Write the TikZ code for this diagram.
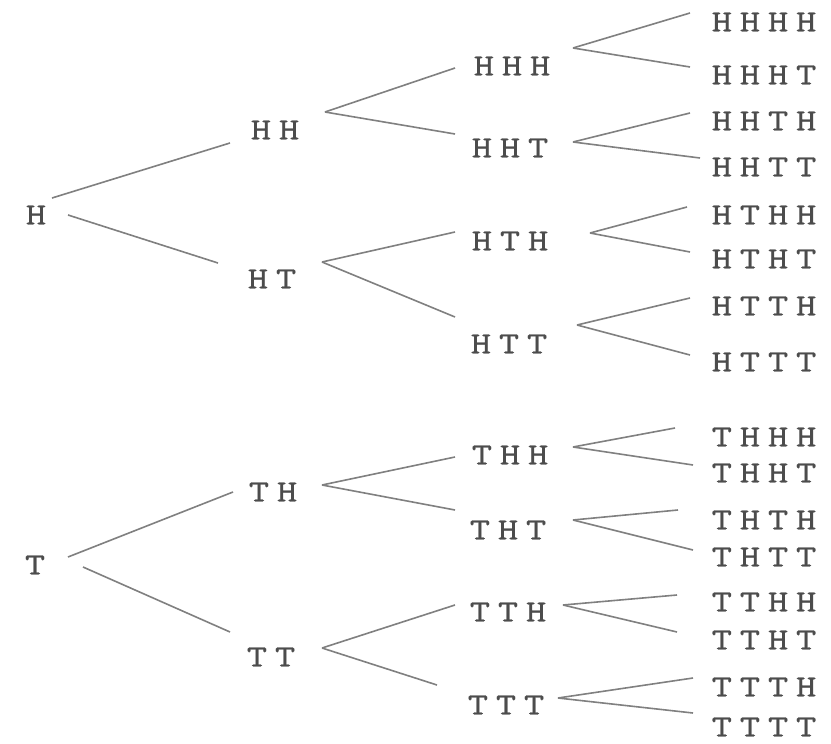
\documentclass[tikz,border=0pt]{standalone}
\usepackage{fontspec}
\definecolor{txtgray}{HTML}{4C4C4C}
\definecolor{linegray}{HTML}{808080}
\newfontfamily\treefont[LetterSpace=25,FakeStretch=1.25,FakeBold=0.6]{lmmono10-regular.otf}
\newcommand{\treefnt}{\treefont\fontsize{31}{31}\selectfont}
\begin{document}
\begin{tikzpicture}[x=1pt,y=-1pt,
  lbl/.style={anchor=center,inner sep=0pt,text height=18.9pt,text depth=0pt,
    font=\treefnt,text=txtgray},
  br/.style={draw=linegray,line width=1.6pt}]
\path[use as bounding box,fill=white] (0,0) rectangle (831,744);
% level 0
\node[lbl] (H) at (36,215) {H};
\node[lbl] (T) at (35,565) {T};
% level 1
\node[lbl] (HH) at (275,130) {HH};
\node[lbl] (HT) at (272,279) {HT};
\node[lbl] (TH) at (273,492) {TH};
\node[lbl] (TT) at (271,657) {TT};
% level 2
\node[lbl] (HHH) at (512,66) {HHH};
\node[lbl] (HHT) at (510,148) {HHT};
\node[lbl] (HTH) at (510,241) {HTH};
\node[lbl] (HTT) at (509,344) {HTT};
\node[lbl] (THH) at (510,455) {THH};
\node[lbl] (THT) at (508,530) {THT};
\node[lbl] (TTH) at (508,612) {TTH};
\node[lbl] (TTT) at (506,705) {TTT};
% level 3
\node[lbl] (HHHH) at (764,22) {HHHH};
\node[lbl] (HHHT) at (764,75) {HHHT};
\node[lbl] (HHTH) at (764,121) {HHTH};
\node[lbl] (HHTT) at (764,167) {HHTT};
\node[lbl] (HTHH) at (764,215) {HTHH};
\node[lbl] (HTHT) at (764,259) {HTHT};
\node[lbl] (HTTH) at (764,306) {HTTH};
\node[lbl] (HTTT) at (764,362) {HTTT};
\node[lbl] (THHH) at (764,437) {THHH};
\node[lbl] (THHT) at (764,473) {THHT};
\node[lbl] (THTH) at (764,520) {THTH};
\node[lbl] (THTT) at (764,557) {THTT};
\node[lbl] (TTHH) at (764,602) {TTHH};
\node[lbl] (TTHT) at (764,640) {TTHT};
\node[lbl] (TTTH) at (764,687) {TTTH};
\node[lbl] (TTTT) at (764,727) {TTTT};
% branches: parent/child/out-offset/in-offset (relative to node centres)
\foreach \p/\c/\o/\i in {
  H/HH/{16,-17}/{-45,13}, H/HT/{32,0}/{-54,-16},
  HH/HHH/{50,-18}/{-57,2}, HH/HHT/{50,-18}/{-55,-14},
  HT/HTH/{50,-17}/{-55,-9}, HT/HTT/{50,-17}/{-54,-27},
  HHH/HHHH/{61,-18}/{-74,-9}, HHH/HHHT/{61,-18}/{-74,-8},
  HHT/HHTH/{63,-6}/{-74,-8}, HHT/HHTT/{63,-6}/{-64,-9},
  HTH/HTHH/{80,-8}/{-77,-8}, HTH/HTHT/{80,-8}/{-74,-7},
  HTT/HTTH/{68,-19}/{-74,-8}, HTT/HTTT/{68,-19}/{-74,-7},
  T/TH/{33,-8}/{-40,0}, T/TT/{48,2}/{-41,-25},
  TH/THH/{49,-7}/{-55,2}, TH/THT/{49,-7}/{-53,-20},
  TT/TTH/{51,-9}/{-53,-7}, TT/TTT/{51,-9}/{-69,-20},
  THH/THHH/{63,-8}/{-89,-9}, THH/THHT/{63,-8}/{-71,-8},
  THT/THTH/{65,-10}/{-86,-10}, THT/THTT/{65,-10}/{-71,-7},
  TTH/TTHH/{55,-7}/{-87,-7}, TTH/TTHT/{55,-7}/{-87,-8},
  TTT/TTTH/{52,-7}/{-71,-9}, TTT/TTTT/{52,-7}/{-71,-14}}{
  \draw[br] ([shift={(\o)}]\p.center) -- ([shift={(\i)}]\c.center);
}
\end{tikzpicture}
\end{document}
